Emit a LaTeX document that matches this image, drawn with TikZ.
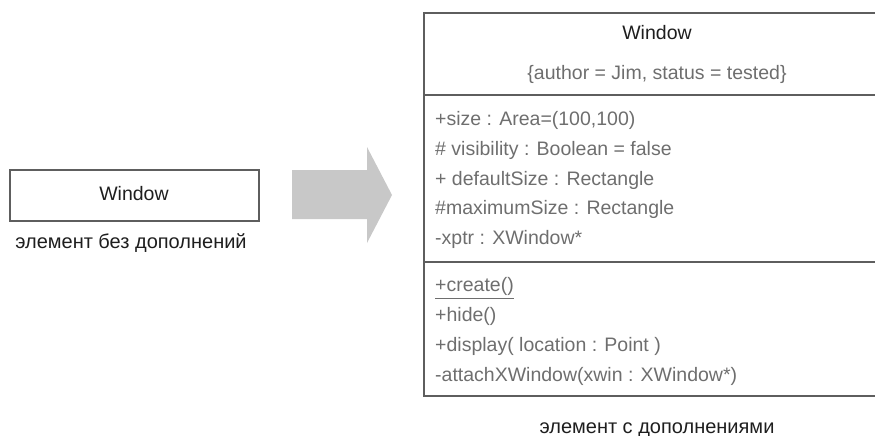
\documentclass[tikz,border=0pt]{standalone}
\usepackage{fontspec}
\setmainfont{Liberation Sans}
\usetikzlibrary{calc}

\definecolor{boxline}{HTML}{5E5E5E}
\definecolor{attrgray}{HTML}{6E6E6E}
\definecolor{darktext}{HTML}{1E1E1E}
\definecolor{arrowgray}{HTML}{C8C8C8}

\tikzset{
  umlline/.style={boxline,line width=1.6pt},
  member/.style={anchor=base west,inner sep=0pt,text=attrgray,font=\fontsize{19.5}{22}\selectfont},
  classname/.style={anchor=base,inner sep=0pt,text=darktext,font=\fontsize{19.5}{22}\selectfont},
  caption/.style={anchor=base,inner sep=0pt,text=darktext,font=\fontsize{20}{22}\selectfont}
}

\begin{document}
\begin{tikzpicture}[x=1pt,y=-1pt]
\useasboundingbox (0,0) rectangle (875,436);
\clip (0,0) rectangle (875,436);

% element without adornments
\coordinate (A) at (10,170);
\coordinate (B) at (259,221);
\draw[umlline] (A) rectangle (B);
\node[classname] (plainname) at (134,200) {Window};
\node[caption] (plaincap) at (131,248) {элемент без дополнений};

% big gray arrow
\fill[arrowgray] (292,170) -- (367,170) -- (367,147) -- (392,195)
  -- (367,243) -- (367,219) -- (292,219) -- cycle;

% element with adornments
\coordinate (C) at (424,13);
\coordinate (D) at (890,396);
\draw[umlline] (C) rectangle (D);
\draw[umlline] (424,95) -- (890,95);
\draw[umlline] (424,262) -- (890,262);

\node[classname] (fullname) at (657,40) {Window};
\node[classname,text=attrgray] (tags) at (657,80) {\{author = Jim, status = tested\}};

\node[member] (size) at (435,125) {+size : Area=(100,100)};
\node[member] (vis) at (435,155) {\# visibility : Boolean = false};
\node[member] (defsize) at (435,185) {+ defaultSize : Rectangle};
\node[member] (maxsize) at (435,214) {\#maximumSize : Rectangle};
\node[member] (xptr) at (435,244) {-xptr : XWindow*};

\node[member] (create) at (435,291) {+create()};
\draw[attrgray,line width=1pt] ($(create.base west)+(0,7)$) -- ($(create.base east)+(0,7)$);
\node[member] (hide) at (435,321) {+hide()};
\node[member] (display) at (435,351) {+display( location : Point )};
\node[member] (attach) at (435,381) {-attachXWindow(xwin : XWindow*)};

\node[caption] (fullcap) at (657,433) {элемент с дополнениями};

\end{tikzpicture}
\end{document}
